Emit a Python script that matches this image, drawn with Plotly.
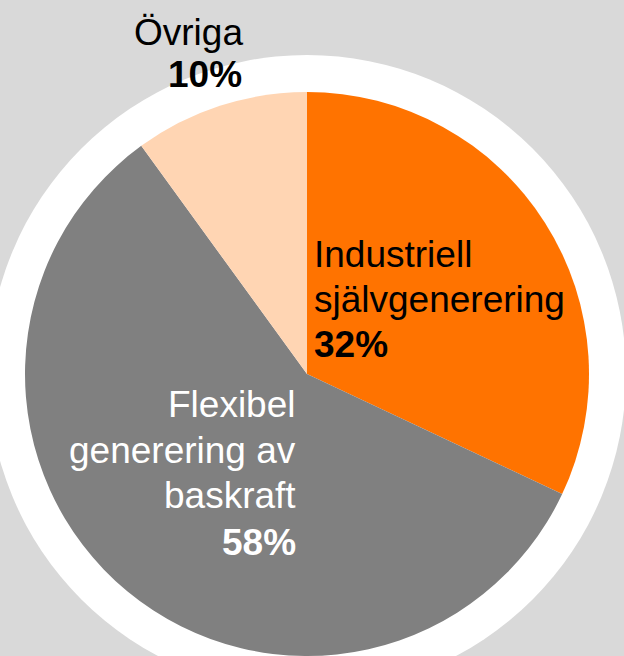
import plotly.graph_objects as go

# Data
categories = ["Industriell självgenerering", "Flexibel generering av baskraft", "Övriga"]
values = [32, 58, 10]
label_lines = [["Industriell", "självgenerering"], ["Flexibel", "generering av", "baskraft"], ["Övriga"]]
slice_colors = ["#FF7300", "#808080", "#FFD5B3"]
text_colors = ["#000000", "#FFFFFF", "#000000"]

W, H = 624, 656
cx, cy = 307, 374          # pie centre in pixels (from top)
r_pie, r_ring = 282, 319

def px(x):
    return x / W

def py(y):
    return (H - y) / H

fig = go.Figure()
fig.add_trace(go.Pie(
    labels=categories,
    values=values,
    sort=False,
    direction="clockwise",
    rotation=0,
    marker=dict(colors=slice_colors, line=dict(width=0)),
    textinfo="none",
    hoverinfo="label+percent",
    showlegend=False,
    domain=dict(x=[px(cx - r_pie), px(cx + r_pie)], y=[py(cy + r_pie), py(cy - r_pie)]),
))

# white ring behind the pie
fig.add_shape(type="circle", xref="paper", yref="paper", layer="below",
              x0=px(cx - r_ring), x1=px(cx + r_ring),
              y0=py(cy + r_ring), y1=py(cy - r_ring),
              fillcolor="#FFFFFF", line=dict(width=0))

font_family = "Arial, Liberation Sans, sans-serif"
fs = 37

# label layout: (anchor, x, list of line-centre y)
layouts = [
    ("left", 312, [255, 299, 344]),
    ("right", 298, [404, 450, 495, 542]),
    ("center", 188, [32, 74]),
]

for i, (anchor, x, ys) in enumerate(layouts):
    lines = list(label_lines[i]) + ["<b>%d%%</b>" % values[i]]
    for j, (txt, y) in enumerate(zip(lines, ys)):
        xx = x
        if anchor == "center" and j == len(lines) - 1:
            xx = 205
        fig.add_annotation(
            text=txt, xref="paper", yref="paper",
            x=px(xx), y=py(y), xanchor=anchor, yanchor="middle",
            showarrow=False,
            font=dict(family=font_family, size=fs, color=text_colors[i]),
        )

fig.update_layout(
    width=W, height=H,
    margin=dict(l=0, r=0, t=0, b=0),
    paper_bgcolor="#D9D9D9",
    plot_bgcolor="#D9D9D9",
)

fig.write_html(
    "out.html",
    config={"displayModeBar": False},
    post_script="document.body.style.margin='0px';document.body.style.overflow='hidden';",
)
